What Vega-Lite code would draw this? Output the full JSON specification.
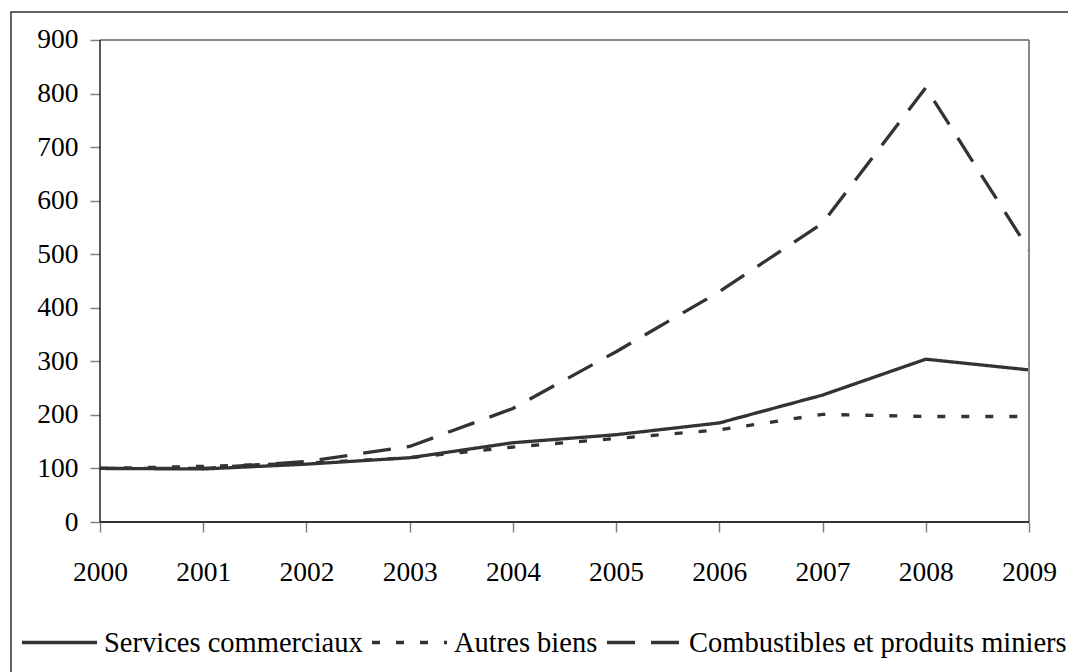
{
  "$schema": "https://vega.github.io/schema/vega-lite/v6.json",
  "autosize": "none",
  "width": 1061,
  "height": 664,
  "padding": {"left": 11, "top": 12, "right": -4, "bottom": -4},
  "background": "white",
  "config": {
    "view": {"stroke": "#333333", "strokeWidth": 1.5},
    "font": "Liberation Serif",
    "axis": {"labelFont": "Liberation Serif"},
    "legend": {"labelFont": "Liberation Serif"}
  },
  "datasets": {
    "series": [
      {"year": 2000, "series": "Services commerciaux", "value": 100},
      {"year": 2001, "series": "Services commerciaux", "value": 99},
      {"year": 2002, "series": "Services commerciaux", "value": 108},
      {"year": 2003, "series": "Services commerciaux", "value": 120},
      {"year": 2004, "series": "Services commerciaux", "value": 148},
      {"year": 2005, "series": "Services commerciaux", "value": 163},
      {"year": 2006, "series": "Services commerciaux", "value": 185},
      {"year": 2007, "series": "Services commerciaux", "value": 237},
      {"year": 2008, "series": "Services commerciaux", "value": 304},
      {"year": 2009, "series": "Services commerciaux", "value": 284},
      {"year": 2000, "series": "Autres biens", "value": 100},
      {"year": 2001, "series": "Autres biens", "value": 104},
      {"year": 2002, "series": "Autres biens", "value": 110},
      {"year": 2003, "series": "Autres biens", "value": 120},
      {"year": 2004, "series": "Autres biens", "value": 140},
      {"year": 2005, "series": "Autres biens", "value": 156},
      {"year": 2006, "series": "Autres biens", "value": 172},
      {"year": 2007, "series": "Autres biens", "value": 201},
      {"year": 2008, "series": "Autres biens", "value": 197},
      {"year": 2009, "series": "Autres biens", "value": 197},
      {"year": 2000, "series": "Combustibles et produits miniers", "value": 100},
      {"year": 2001, "series": "Combustibles et produits miniers", "value": 100},
      {"year": 2002, "series": "Combustibles et produits miniers", "value": 113},
      {"year": 2003, "series": "Combustibles et produits miniers", "value": 141},
      {"year": 2004, "series": "Combustibles et produits miniers", "value": 212},
      {"year": 2005, "series": "Combustibles et produits miniers", "value": 318},
      {"year": 2006, "series": "Combustibles et produits miniers", "value": 430},
      {"year": 2007, "series": "Combustibles et produits miniers", "value": 558},
      {"year": 2008, "series": "Combustibles et produits miniers", "value": 811},
      {"year": 2009, "series": "Combustibles et produits miniers", "value": 508}
    ]
  },
  "layer": [
    {
      "data": {"name": "series"},
      "mark": {"type": "line", "color": "#333333", "strokeWidth": 3.3, "strokeCap": "butt"},
      "encoding": {
        "x": {
          "field": "year",
          "type": "quantitative",
          "scale": {"domain": [1999.1378, 2009.4166], "nice": false, "zero": false},
          "axis": {
            "orient": "bottom",
            "offset": -154,
            "values": [2000, 2001, 2002, 2003, 2004, 2005, 2006, 2007, 2008, 2009],
            "format": "d",
            "domain": false,
            "grid": false,
            "tickSize": 10,
            "tickColor": "#808080",
            "tickWidth": 1.5,
            "labelFont": "Liberation Serif",
            "labelFontSize": 27.5,
            "labelColor": "#000000",
            "labelPadding": 26,
            "labelFlush": false,
            "labelOverlap": false,
            "title": null
          }
        },
        "y": {
          "field": "value",
          "type": "quantitative",
          "scale": {"domain": [-287.55, 952.28], "nice": false, "zero": false},
          "axis": {
            "orient": "left",
            "offset": -89,
            "values": [0, 100, 200, 300, 400, 500, 600, 700, 800, 900],
            "domain": false,
            "grid": false,
            "tickSize": 10,
            "tickColor": "#808080",
            "tickWidth": 1.5,
            "labelFont": "Liberation Serif",
            "labelFontSize": 27.5,
            "labelColor": "#000000",
            "labelPadding": 12,
            "labelFlush": false,
            "labelOverlap": false,
            "title": null
          }
        },
        "strokeDash": {
          "field": "series",
          "type": "nominal",
          "scale": {
            "domain": ["Services commerciaux", "Autres biens", "Combustibles et produits miniers"],
            "range": [[1, 0], [8, 16], [28, 16]]
          },
          "legend": {
            "orient": "none",
            "legendX": 9,
            "legendY": 591,
            "direction": "horizontal",
            "title": null,
            "padding": 0,
            "symbolType": "stroke",
            "symbolSize": 5625,
            "symbolStrokeWidth": 3.3,
            "symbolStrokeColor": "#333333",
            "labelFont": "Liberation Serif",
            "labelFontSize": 28.5,
            "labelColor": "#000000",
            "labelOffset": 5,
            "labelLimit": 0,
            "columnPadding": 2
          }
        }
      }
    },
    {
      "data": {"values": [{}]},
      "mark": {"type": "rule", "color": "#888888", "strokeWidth": 2},
      "encoding": {
        "x": {"datum": 2000, "type": "quantitative"},
        "x2": {"datum": 2009},
        "y": {"datum": 900, "type": "quantitative"}
      }
    },
    {
      "data": {"values": [{}]},
      "mark": {"type": "rule", "color": "#888888", "strokeWidth": 2},
      "encoding": {
        "x": {"datum": 2009, "type": "quantitative"},
        "y": {"datum": 0, "type": "quantitative"},
        "y2": {"datum": 900}
      }
    },
    {
      "data": {"values": [{}]},
      "mark": {"type": "rule", "color": "#222222", "strokeWidth": 1.5},
      "encoding": {
        "x": {"datum": 2000, "type": "quantitative"},
        "y": {"datum": 0, "type": "quantitative"},
        "y2": {"datum": 900}
      }
    },
    {
      "data": {"values": [{}]},
      "mark": {"type": "rule", "color": "#333333", "strokeWidth": 2},
      "encoding": {
        "x": {"datum": 2000, "type": "quantitative"},
        "x2": {"datum": 2009},
        "y": {"datum": 0, "type": "quantitative"}
      }
    }
  ]
}
